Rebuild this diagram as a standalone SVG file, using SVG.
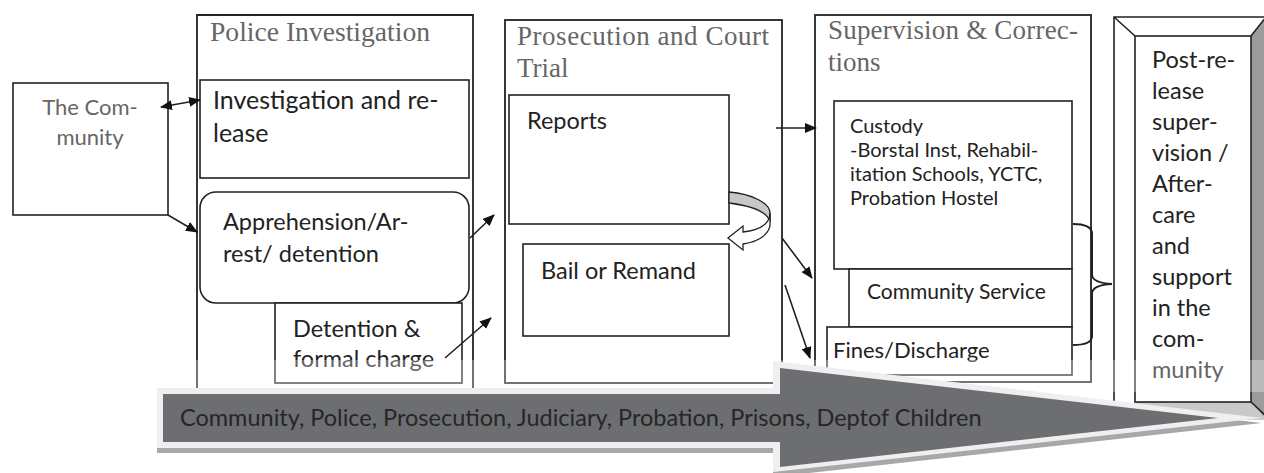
<svg xmlns="http://www.w3.org/2000/svg" width="1264" height="473" viewBox="0 0 1264 473">
<style>
.box{fill:#fff;stroke:#222;stroke-width:1.6}
.col{fill:none;stroke:#222;stroke-width:1.8}
.ttl{font-family:"Liberation Serif",serif;font-size:27px;fill:#666}
.t{font-family:Lato,"Liberation Sans",sans-serif;font-size:23.5px;fill:#222}
.ts{font-family:Lato,"Liberation Sans",sans-serif;font-size:20px;fill:#222}
.cn{fill:none;stroke:#222;stroke-width:1.6}
</style>
<defs>
<marker id="ah" viewBox="0 0 12 10" refX="11" refY="5" markerWidth="12" markerHeight="10" markerUnits="userSpaceOnUse" orient="auto-start-reverse">
<path d="M0,0 L12,5 L0,10 Z" fill="#111"/>
</marker>
</defs>
<rect width="1264" height="473" fill="#fff"/>

<g id="community">
<rect class="box" x="13" y="83" width="155" height="132"/>
<text class="t" x="90" y="115" text-anchor="middle" style="font-size:22px;fill:#666">The Com-</text>
<text class="t" x="90" y="145" text-anchor="middle" style="font-size:22px;fill:#666">munity</text>
</g>

<g id="police">
<path class="col" d="M197,390 V15 H473 V390"/>
<text class="ttl" x="210" y="41" textLength="220" lengthAdjust="spacingAndGlyphs">Police Investigation</text>
</g>
<g id="investigation">
<rect class="box" x="200" y="80" width="269" height="98"/>
<text class="t" x="213" y="109" style="font-size:25px">Investigation and re-</text>
<text class="t" x="213" y="142" style="font-size:25px">lease</text>
</g>
<g id="apprehension">
<rect class="box" x="200" y="192" width="269" height="111" rx="16"/>
<text class="t" x="223" y="230">Apprehension/Ar-</text>
<text class="t" x="223" y="262">rest/ detention</text>
</g>
<g id="detention">
<rect class="box" x="275" y="303" width="187" height="80"/>
<text class="t" x="293" y="337">Detention &amp;</text>
<text class="t" x="293" y="367">formal charge</text>
</g>

<g id="prosecution">
<rect class="col" x="505" y="20" width="277" height="363"/>
<text class="ttl" x="517" y="45" textLength="252" lengthAdjust="spacing">Prosecution and Court</text>
<text class="ttl" x="517" y="77">Trial</text>
</g>
<g id="reports">
<rect class="box" x="509" y="95" width="220" height="129"/>
<text class="t" x="527" y="129">Reports</text>
</g>
<g id="bail">
<rect class="box" x="523" y="244" width="206" height="92"/>
<text class="t" x="541" y="279">Bail or Remand</text>
</g>
<g id="loop-arrow">
<path d="M729,192 C752,194 770,203 770,213 L770,222 C768,212 752,206 729,203 Z" fill="#c8c8c8" stroke="#222" stroke-width="1.3"/>
<path d="M770,213 C770,224 760,230 743,232 L743,226 L728,238 L743,250 L743,244 C762,241 771,232 770,222 Z" fill="#fff" stroke="#222" stroke-width="1.3"/>
</g>

<g id="supervision">
<rect class="col" x="815" y="15" width="276" height="367"/>
<text class="ttl" x="828" y="39" textLength="250" lengthAdjust="spacing">Supervision &amp; Correc-</text>
<text class="ttl" x="828" y="71">tions</text>
</g>
<g id="custody">
<rect class="box" x="834" y="101" width="238" height="168"/>
<text class="ts" x="850" y="133">Custody</text>
<text class="ts" x="850" y="157">-Borstal Inst, Rehabil-</text>
<text class="ts" x="850" y="181">itation Schools, YCTC,</text>
<text class="ts" x="850" y="205">Probation Hostel</text>
</g>
<g id="community-service">
<rect class="box" x="849" y="269" width="223" height="58"/>
<text class="t" x="867" y="299" style="font-size:21px">Community Service</text>
</g>
<g id="fines">
<rect class="box" x="827" y="327" width="245" height="48"/>
<text class="t" x="833" y="358" style="font-size:22px">Fines/Discharge</text>
</g>
<g id="brace">
<path d="M1073,224 Q1091,224 1092,233 V275 Q1093,283 1112,284 Q1093,285 1092,293 V337 Q1091,345 1073,345" fill="none" stroke="#222" stroke-width="2"/>
</g>

<g id="post-release">
<polygon points="1114,17 1266,17 1251,36 1135,36" fill="#fff"/>
<polygon points="1114,17 1135,36 1135,402 1114,420" fill="#fff"/>
<polygon points="1251,36 1266,17 1266,420 1251,402" fill="#9c9c9c"/>
<polygon points="1135,402 1251,402 1266,420 1114,420" fill="#c9c9c9"/>
<path d="M1114,420 V17 H1266 M1114,17 L1135,36 M1251,36 L1266,17 M1251,402 L1266,416" fill="none" stroke="#222" stroke-width="1.6"/>
<rect x="1135" y="36" width="116" height="366" fill="#fff" stroke="#222" stroke-width="1.6"/>
<text class="t" x="1152" y="68">Post-re-</text>
<text class="t" x="1152" y="99">lease</text>
<text class="t" x="1152" y="130">super-</text>
<text class="t" x="1152" y="161">vision /</text>
<text class="t" x="1152" y="192">After-</text>
<text class="t" x="1152" y="223">care</text>
<text class="t" x="1152" y="254">and</text>
<text class="t" x="1152" y="285">support</text>
<text class="t" x="1152" y="316">in the</text>
<text class="t" x="1152" y="347">com-</text>
<text class="t" x="1152" y="378">munity</text>
</g>

<g id="connectors">
<path class="cn" d="M161,107 L200,100" marker-start="url(#ah)" marker-end="url(#ah)"/>
<path class="cn" d="M168,215 L197,232" marker-end="url(#ah)"/>
<path class="cn" d="M470,238 L494,215" marker-end="url(#ah)"/>
<path class="cn" d="M445,358 L491,318" marker-end="url(#ah)"/>
<path class="cn" d="M776,128 L816,128" marker-end="url(#ah)"/>
<path class="cn" d="M782,238 L812,278" marker-end="url(#ah)"/>
<path class="cn" d="M785,285 L810,358" marker-end="url(#ah)"/>
</g>

<rect x="150" y="360" width="1114" height="32" fill="#fff" opacity="0.3"/>

<g id="agencies-arrow">
<polygon points="157,393 773,393 773,366 1262,423 773,477 773,453 157,453" fill="#a8a8a8"/>
<polygon points="157,388 773,388 773,361 1262,418 773,472 773,448 157,448" fill="#efefef"/>
<polygon points="163,394 780,394 780,368 1218,418 780,467 780,442 163,442" fill="#6d6e71"/>
<text x="180" y="426" style="font-family:Lato,'Liberation Sans',sans-serif;font-size:23.5px;fill:#262626">Community, Police, Prosecution, Judiciary, Probation, Prisons, Deptof Children</text>
</g>
</svg>
